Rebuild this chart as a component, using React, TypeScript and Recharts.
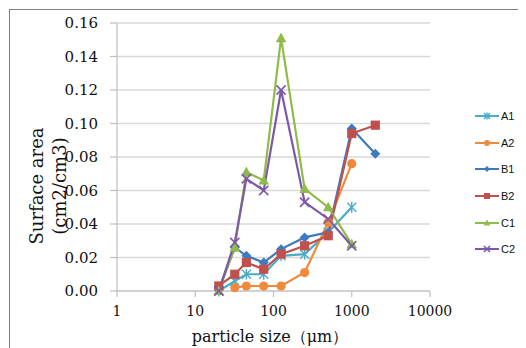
import React from 'react';
import { LineChart, Line, XAxis, YAxis, CartesianGrid } from 'recharts';

const sizes = [20, 32, 45, 75, 125, 250, 500, 1000, 2000];
const A1 = [0, 0.006, 0.010, 0.010, 0.021, 0.022, 0.035, 0.050, null];
const A2 = [null, 0.002, 0.003, 0.003, 0.003, 0.011, 0.041, 0.076, null];
const B1 = [0.001, 0.026, 0.021, 0.017, 0.025, 0.032, 0.035, 0.097, 0.082];
const B2 = [0.003, 0.010, 0.017, 0.013, 0.022, 0.027, 0.033, 0.094, 0.099];
const C1 = [0, 0.026, 0.071, 0.066, 0.151, 0.061, 0.050, 0.028, null];
const C2 = [0, 0.029, 0.067, 0.060, 0.120, 0.053, 0.043, 0.027, null];

const xTicks = [1, 10, 100, 1000, 10000];
const yTicks = [0, 0.02, 0.04, 0.06, 0.08, 0.1, 0.12, 0.14, 0.16];

const seriesDefs = [
  { key: 'A1', values: A1, color: '#4bacc6', shape: 'asterisk' },
  { key: 'A2', values: A2, color: '#ed8a3c', shape: 'circle' },
  { key: 'B1', values: B1, color: '#3f79be', shape: 'diamond' },
  { key: 'B2', values: B2, color: '#c0504d', shape: 'square' },
  { key: 'C1', values: C1, color: '#8fbb4a', shape: 'triangle' },
  { key: 'C2', values: C2, color: '#7e57a8', shape: 'cross' },
];

const data = sizes.map((x, i) => {
  const row: any = { x };
  seriesDefs.forEach((s) => {
    row[s.key] = s.values[i];
  });
  return row;
});

function Marker({ shape, color, cx, cy, s }: any) {
  switch (shape) {
    case 'asterisk':
      return (
        <g stroke={color} strokeWidth={1.4} fill="none">
          <line x1={cx - s} y1={cy - s} x2={cx + s} y2={cy + s} />
          <line x1={cx - s} y1={cy + s} x2={cx + s} y2={cy - s} />
          <line x1={cx} y1={cy - s * 1.2} x2={cx} y2={cy + s * 1.2} />
        </g>
      );
    case 'circle':
      return <circle cx={cx} cy={cy} r={s} fill={color} />;
    case 'diamond':
      return (
        <polygon
          points={`${cx},${cy - s} ${cx + s},${cy} ${cx},${cy + s} ${cx - s},${cy}`}
          fill={color}
        />
      );
    case 'square':
      return <rect x={cx - s} y={cy - s} width={2 * s} height={2 * s} fill={color} />;
    case 'triangle':
      return (
        <polygon
          points={`${cx},${cy - s * 1.15} ${cx + s * 1.1},${cy + s * 0.85} ${cx - s * 1.1},${cy + s * 0.85}`}
          fill={color}
        />
      );
    case 'cross':
      return (
        <g stroke={color} strokeWidth={1.6} fill="none">
          <line x1={cx - s} y1={cy - s} x2={cx + s} y2={cy + s} />
          <line x1={cx - s} y1={cy + s} x2={cx + s} y2={cy - s} />
        </g>
      );
    default:
      return null;
  }
}

const markerSize: Record<string, number> = {
  asterisk: 4.5,
  circle: 4.6,
  diamond: 5,
  square: 4.6,
  triangle: 4.8,
  cross: 4.6,
};

function makeDot(shape: string, color: string) {
  return (props: any) => {
    const { cx, cy, index, value } = props;
    if (cx == null || cy == null || value == null || isNaN(cy)) {
      return <g key={`e-${shape}-${index}`} />;
    }
    return (
      <g key={`d-${shape}-${index}`}>
        <Marker shape={shape} color={color} cx={cx} cy={cy} s={markerSize[shape]} />
      </g>
    );
  };
}

function LegendBox() {
  return (
    <div style={{ position: 'absolute', left: 467, top: 94.7, width: 60 }}>
      {seriesDefs.map((s) => (
        <div key={s.key} style={{ height: 26.7, display: 'flex', alignItems: 'center' }}>
          <svg width={26} height={12} style={{ display: 'block' }}>
            <line x1={0} y1={6} x2={24} y2={6} stroke={s.color} strokeWidth={2} />
            <Marker shape={s.shape} color={s.color} cx={12} cy={6} s={3} />
          </svg>
          <span
            style={{
              fontFamily: '"Liberation Sans", Arial, sans-serif',
              fontSize: 11,
              color: '#111',
              lineHeight: '12px',
            }}
          >
            {s.key}
          </span>
        </div>
      ))}
    </div>
  );
}

const serif = '"DejaVu Serif", serif';

function YTitle() {
  return (
    <g style={{ fontFamily: serif }} fontSize={18} fill="#111">
      <text x={29} y={178} transform="rotate(-90, 29, 178)" textAnchor="middle" dy="0.35em" style={{ fontFamily: serif }}>
        Surface area
      </text>
      <text x={52} y={178} transform="rotate(-90, 52, 178)" textAnchor="middle" dy="0.35em" style={{ fontFamily: serif }}>
        (cm2/cm3)
      </text>
    </g>
  );
}

function XTitle() {
  return (
    <text x={262} y={334} textAnchor="middle" style={{ fontFamily: serif }} fontSize={16} fill="#111">
      particle size（μm）
    </text>
  );
}

const tickStyle = { fill: '#111', fontSize: 14, style: { fontFamily: serif } } as any;
const yTickStyle = { fill: '#111', fontSize: 15, style: { fontFamily: serif } } as any;

export default function App() {
  return (
    <div style={{ position: 'relative', width: 518, height: 340, overflow: 'hidden', background: '#fff', fontFamily: serif }}>
      <LineChart
        width={518}
        height={340}
        data={data}
        margin={{ top: 15, right: 96, left: 0, bottom: 27 }}
        style={{ fontFamily: serif }}
      >
        <CartesianGrid horizontal vertical={false} stroke="#d9d9d9" strokeWidth={1.5} />
        <XAxis
          dataKey="x"
          type="number"
          scale="log"
          domain={[1, 10000]}
          ticks={xTicks}
          allowDataOverflow
          height={30}
          tickSize={6}
          tickMargin={9}
          stroke="#bfbfbf"
          strokeWidth={1.2}
          tick={tickStyle}
          label={{ content: () => <XTitle /> }}
        />
        <YAxis
          type="number"
          domain={[0, 0.16]}
          ticks={yTicks}
          width={109}
          tickSize={7}
          tickMargin={12}
          stroke="#bfbfbf"
          strokeWidth={1.2}
          tickFormatter={(v: number) => v.toFixed(2)}
          tick={yTickStyle}
          label={{ content: () => <YTitle /> }}
        />
        {seriesDefs.map((s) => (
          <Line
            key={s.key}
            type="linear"
            dataKey={s.key}
            name={s.key}
            stroke={s.color}
            strokeWidth={2.2}
            dot={makeDot(s.shape, s.color)}
            activeDot={false}
            isAnimationActive={false}
          />
        ))}
      </LineChart>
      <LegendBox />
      <div
        style={{
          position: 'absolute',
          left: 1,
          top: 1,
          width: 600,
          height: 400,
          border: '1.5px solid #808080',
          pointerEvents: 'none',
        }}
      />
    </div>
  );
}
